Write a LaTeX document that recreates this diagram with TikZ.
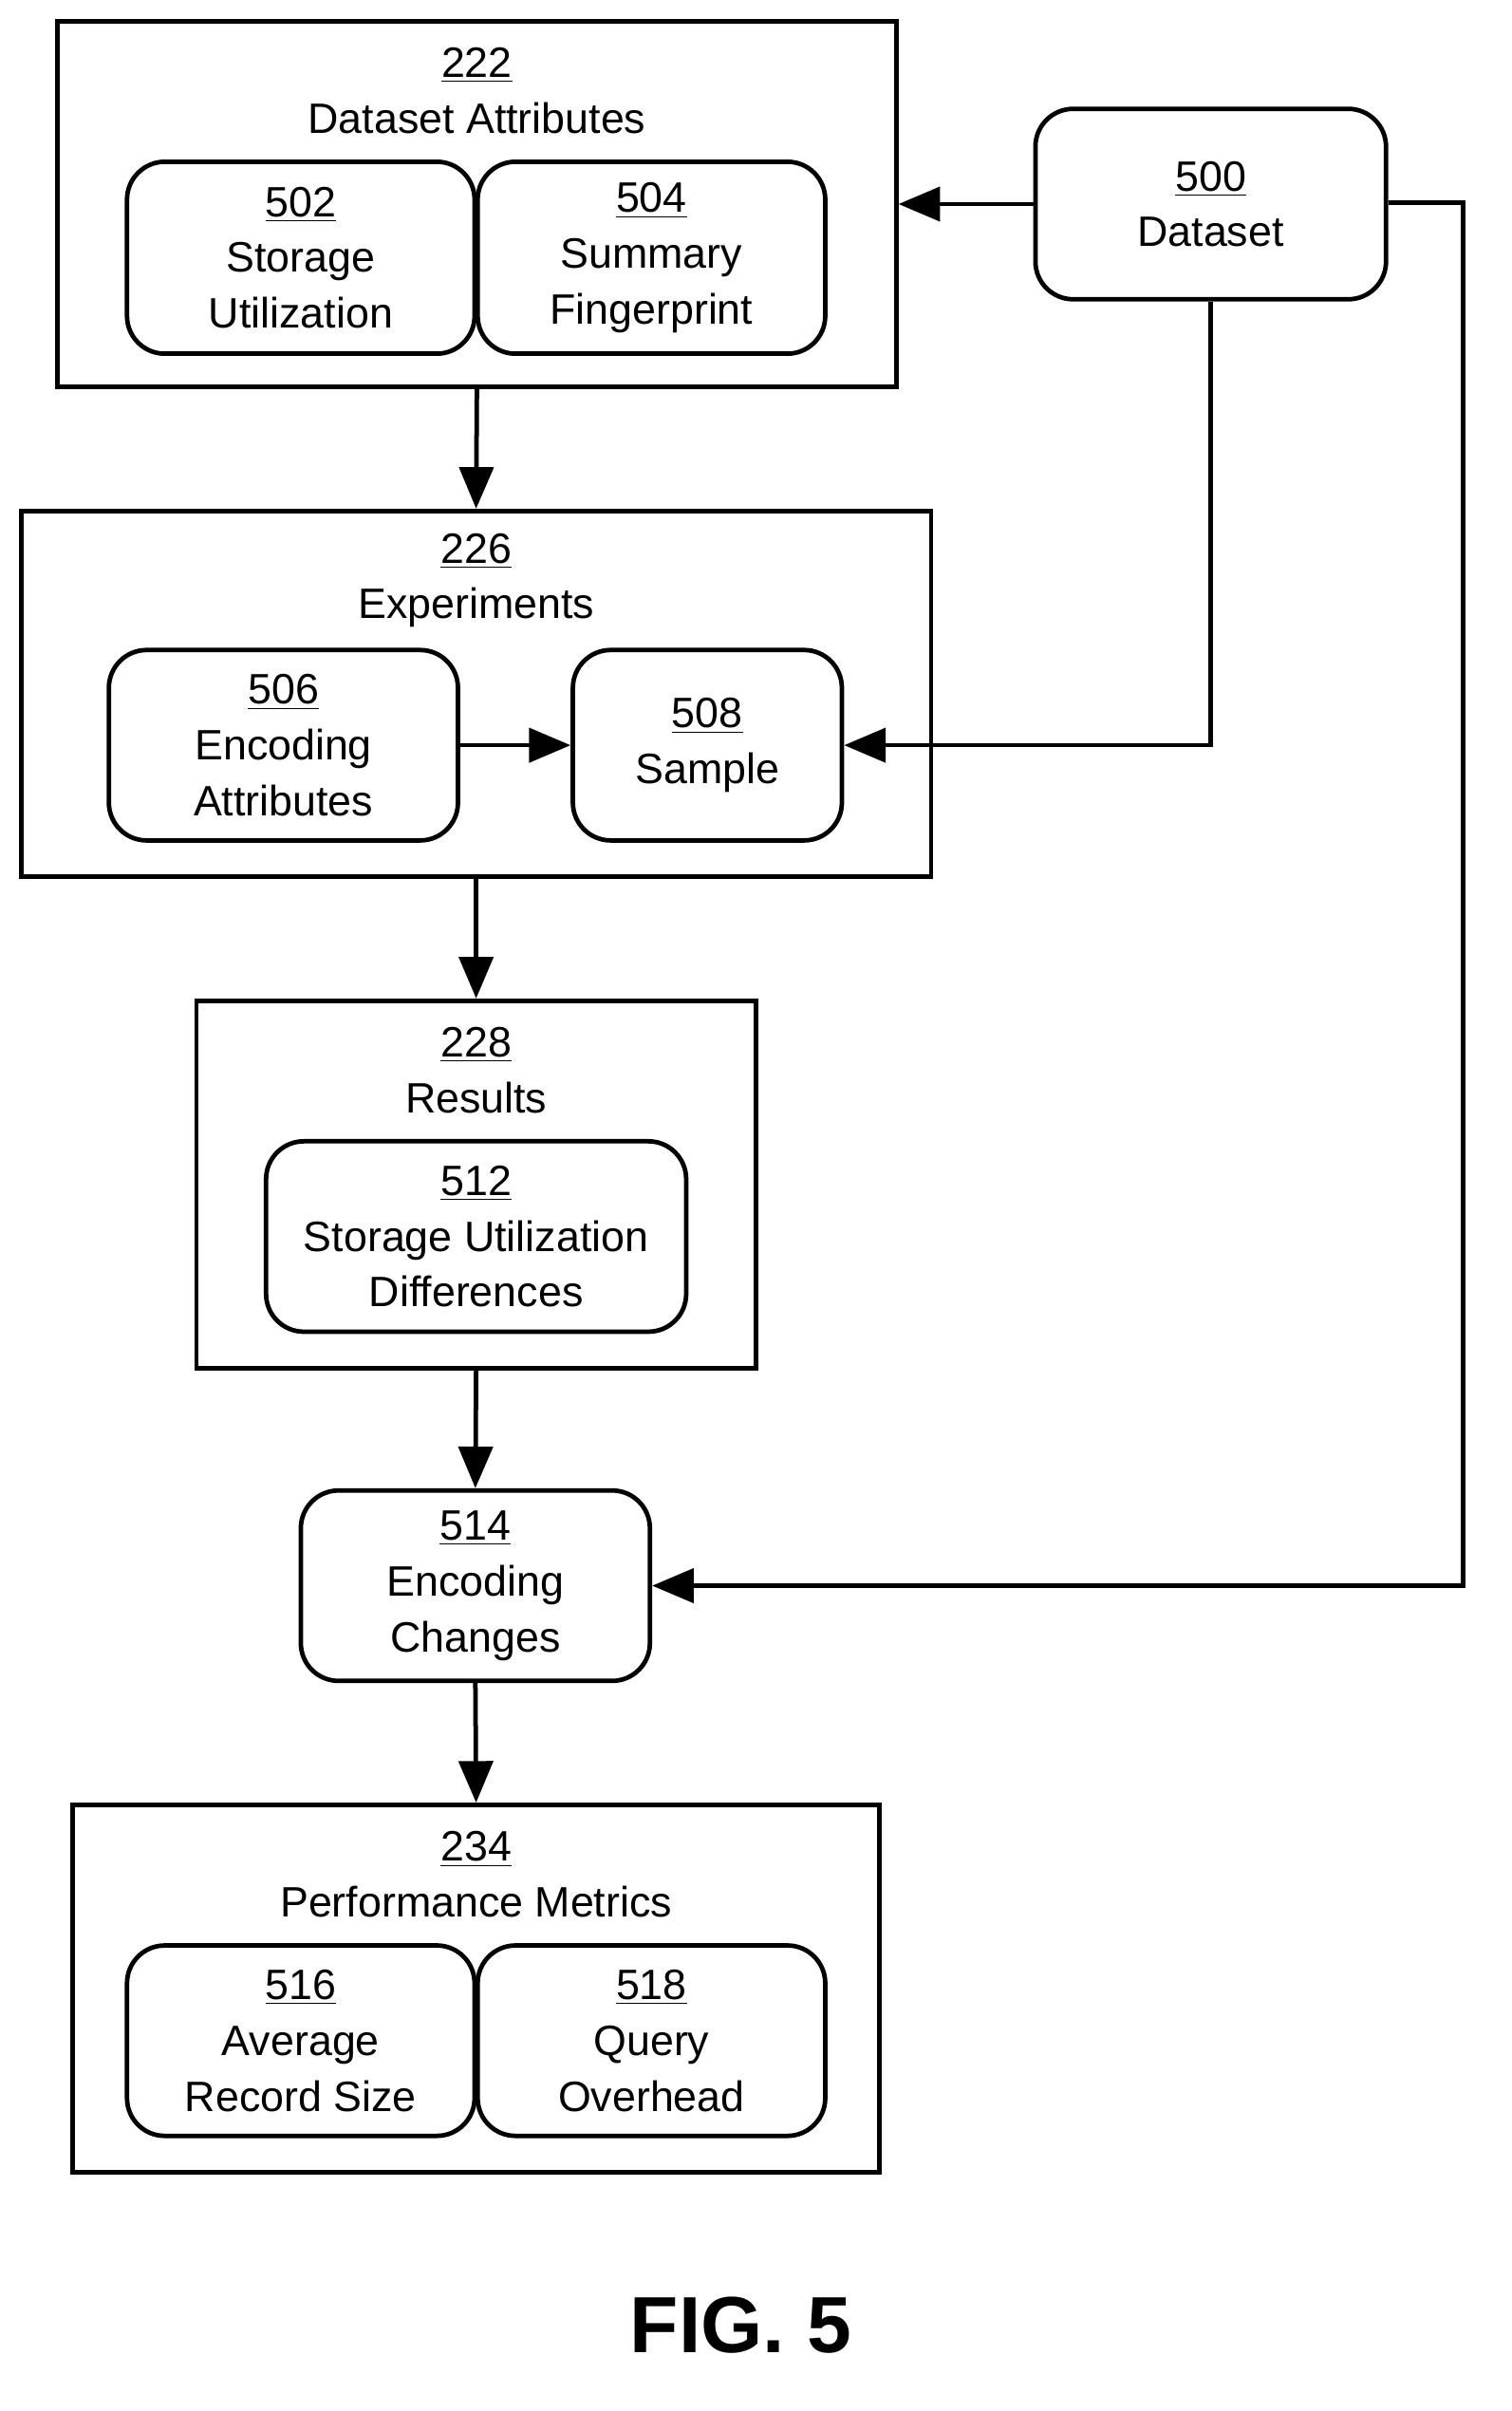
\documentclass[tikz,border=0pt]{standalone}
\usepackage{fontspec}
\setmainfont{Liberation Sans}
\usetikzlibrary{arrows.meta,positioning}
\tikzset{
  outer/.style={draw,line width=1.7pt,inner sep=0pt},
  inner/.style={draw,line width=1.7pt,rounded corners=0.5cm,align=center,inner sep=0pt},
  lbl/.style={align=center,inner sep=0pt},
  arrow/.style={line width=1.7pt,-{Triangle[length=0.55cm,width=0.45cm]}}
}
\newcommand{\boxtext}[2]{\underline{#1}\\#2}
\begin{document}
\begin{tikzpicture}[x=0.02cm,y=-0.02cm,font=\fontsize{16}{21}\selectfont]
	\useasboundingbox (0,0) rectangle (1000,1595);
	% outer boxes
	\node[outer,minimum width=11.1cm,minimum height=4.84cm] (attr) at (315.5,135) {};
	\node[lbl] at (315.5,60) {\boxtext{222}{Dataset Attributes}};
	\node[outer,minimum width=12.04cm,minimum height=4.84cm] (exp) at (315,459) {};
	\node[lbl] at (315,384) {\boxtext{226}{Experiments}};
	\node[outer,minimum width=7.4cm,minimum height=4.86cm] (res) at (315,783.5) {};
	\node[lbl] at (315,708) {\boxtext{228}{Results}};
	\node[outer,minimum width=10.68cm,minimum height=4.86cm] (perf) at (315,1315.5) {};
	\node[lbl] at (315,1240) {\boxtext{234}{Performance Metrics}};
	% inner boxes
	\node[inner,minimum width=4.6cm,minimum height=2.54cm] (stor) at (199,170.5) {\boxtext{502}{Storage\\Utilization}};
	\node[inner,minimum width=4.6cm,minimum height=2.54cm] (fing) at (431,170.5) {\boxtext{504}{Summary\\Fingerprint}};
	\node[inner,minimum width=4.64cm,minimum height=2.52cm] (data) at (801,135) {\boxtext{500}{Dataset}};
	\node[inner,minimum width=4.62cm,minimum height=2.52cm] (enc) at (187.5,493) {\boxtext{506}{Encoding\\Attributes}};
	\node[inner,minimum width=3.56cm,minimum height=2.52cm] (samp) at (468,493) {\boxtext{508}{Sample}};
	\node[inner,minimum width=5.56cm,minimum height=2.52cm] (diff) at (315,818) {\boxtext{512}{Storage Utilization\\Differences}};
	\node[inner,minimum width=4.62cm,minimum height=2.52cm] (chg) at (314.5,1049) {\boxtext{514}{Encoding\\Changes}};
	\node[inner,minimum width=4.6cm,minimum height=2.52cm] (avg) at (199,1350) {\boxtext{516}{Average\\Record Size}};
	\node[inner,minimum width=4.6cm,minimum height=2.52cm] (query) at (431,1350) {\boxtext{518}{Query\\Overhead}};
	\node[lbl,font=\fontsize{30}{36}\selectfont\bfseries] (fig) at (490,1538) {FIG. 5};
	% connectors
	\coordinate (r1) at (968,134);
	\coordinate (r2) at (968,1049);
	\draw[arrow] (data.west) -- (attr.east |- data.west);
	\draw[arrow] (data.south) |- (samp.east);
	\draw[arrow] (data.east |- r1) -- (r1) -- (r2) -- (chg.east);
	\draw[arrow] (enc) -- (samp);
	\draw[arrow] (attr.south) -- (exp.north);
	\draw[arrow] (exp.south) -- (res.north);
	\draw[arrow] (res.south) -- (chg.north);
	\draw[arrow] (chg.south) -- (perf.north);
\end{tikzpicture}
\end{document}
